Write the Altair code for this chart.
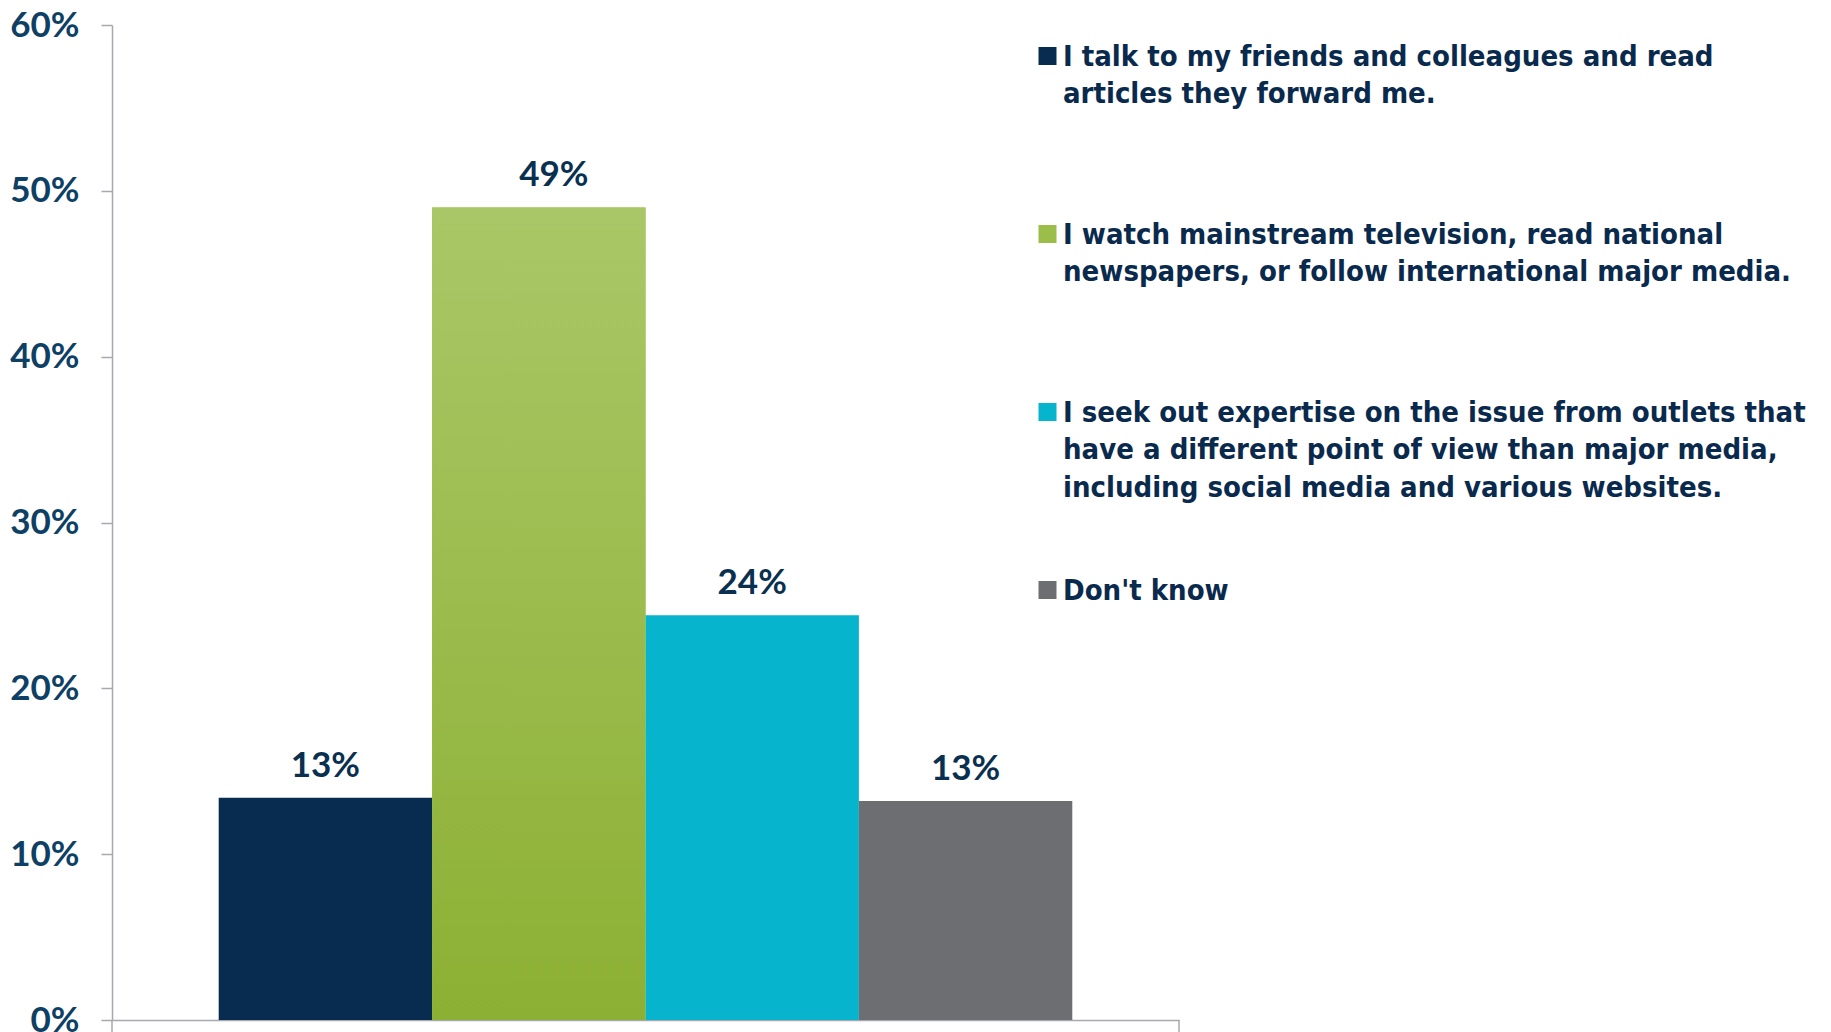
import altair as alt
import pandas as pd

categories = [
    "I talk to my friends and colleagues and read articles they forward me.",
    "I watch mainstream television, read national newspapers, or follow international major media.",
    "I seek out expertise on the issue from outlets that have a different point of view than major media, including social media and various websites.",
    "Don't know",
]
values = [13.4, 49.0, 24.4, 13.2]
value_labels = ["13%", "49%", "24%", "13%"]
colors = ["#082c50", "#9bbd4a", "#06b4cd", "#6d6e71"]
legend_lines = [
    ["I talk to my friends and colleagues and read", "articles they forward me."],
    ["I watch mainstream television, read national", "newspapers, or follow international major media."],
    ["I seek out expertise on the issue from outlets that",
     "have a different point of view than major media,",
     "including social media and various websites."],
    ["Don't know"],
]
y_ticks = [0, 10, 20, 30, 40, 50, 60]

W, H = 1067, 995
AXIS_GRAY = "#a6a9b0"

df = pd.DataFrame({
    "cat": categories,
    "value": values,
    "label": value_labels,
    "order": list(range(len(categories))),
})
legend_df = pd.DataFrame({
    "order": list(range(len(categories))),
    "text": ["\n".join(l) for l in legend_lines],
    "color": colors,
})

x_enc = alt.X(
    "cat:N", sort=categories,
    scale=alt.Scale(paddingInner=0, paddingOuter=0.5),
    axis=alt.Axis(title=None, labels=False, ticks=False, domain=True,
                  domainColor=AXIS_GRAY, domainWidth=1.5),
)
y_enc = alt.Y(
    "value:Q",
    scale=alt.Scale(domain=[0, 60], nice=False),
    axis=alt.Axis(
        title=None, values=y_ticks, labelExpr="datum.value + '%'",
        labelFont="Lato", labelFontWeight="bold", labelFontSize=35,
        labelColor="#0d4064", labelPadding=22,
        tickSize=11, tickColor=AXIS_GRAY, tickWidth=1.5,
        domainColor=AXIS_GRAY, domainWidth=1.5, grid=False,
    ),
)

base = alt.Chart(df)
bars = base.mark_bar().encode(
    x=x_enc, y=y_enc,
    color=alt.Color("cat:N", sort=categories,
                    scale=alt.Scale(domain=categories, range=colors), legend=None),
)
green_grad = alt.Gradient(
    gradient="linear",
    stops=[alt.GradientStop(color="#aac767", offset=0),
           alt.GradientStop(color="#8cb033", offset=1)],
    x1=0, x2=0, y1=0, y2=1,
)
green = base.transform_filter(alt.datum.order == 1).mark_bar(fill=green_grad).encode(
    x=x_enc, y=y_enc)

label_style = dict(font="Lato", fontWeight="bold", fontSize=35, color="#0a3050",
                   baseline="alphabetic", dy=-21)
labels = base.transform_filter(alt.datum.order != 1).mark_text(**label_style).encode(
    x=x_enc, y=y_enc, text="label:N")
label_green = base.transform_filter(alt.datum.order == 1).mark_text(
    dx=15, **label_style).encode(x=x_enc, y=y_enc, text="label:N")

one = pd.DataFrame({"k": [0]})
rule_left = alt.Chart(one).mark_rule(color=AXIS_GRAY, strokeWidth=1.5).encode(
    x=alt.value(0), y=alt.value(H), y2=alt.value(H + 12))
rule_right = alt.Chart(one).mark_rule(color=AXIS_GRAY, strokeWidth=1.5).encode(
    x=alt.value(W), y=alt.value(H), y2=alt.value(H + 12))

main = alt.layer(bars, green, labels, label_green, rule_left, rule_right)

ly = alt.Y("order:Q", scale=alt.Scale(domain=[0, 3], range=[31, 565]), axis=None)
squares = alt.Chart(legend_df).mark_square(size=324, opacity=1, strokeWidth=0).encode(
    x=alt.value(935.5), y=ly, fill=alt.Fill("color:N", scale=None))
texts = alt.Chart(legend_df).mark_text(
    align="left", baseline="top", lineBreak="\n", lineHeight=37.4,
    font="DejaVu Sans Condensed", fontWeight="bold", fontSize=29,
    color="#0a2a4d", dy=-13,
).encode(x=alt.value(951), y=ly, text="text:N")
legend = alt.layer(squares, texts)

chart = alt.layer(main, legend).resolve_scale(y="independent").properties(
    width=W, height=H,
    padding={"left": 1, "top": 0, "right": 0, "bottom": 0},
    background="white",
).configure_view(stroke=None)

chart.save("out.html", embed_options={"renderer": "svg", "actions": False})
